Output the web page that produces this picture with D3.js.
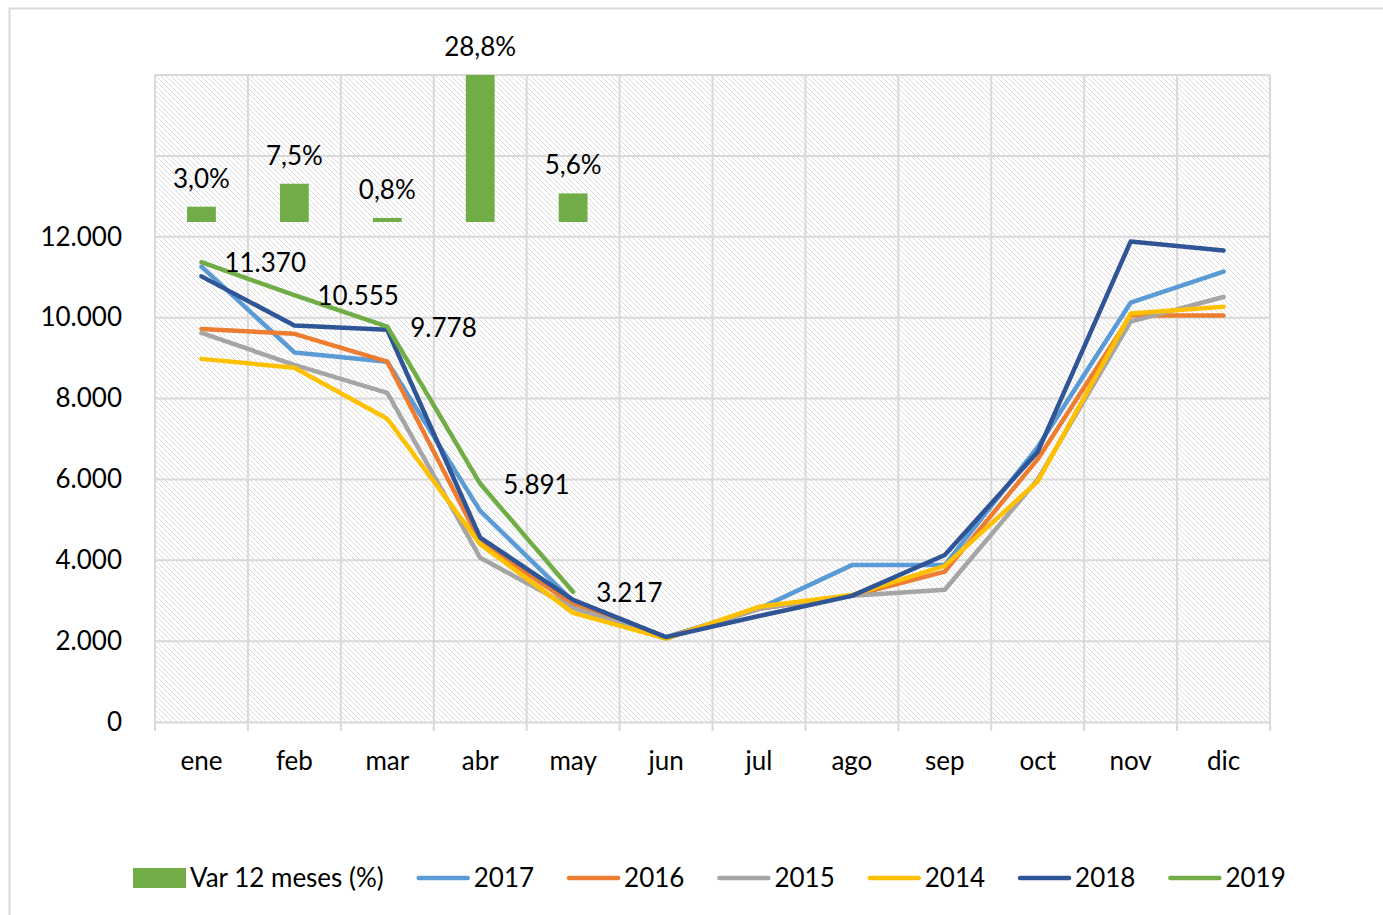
<!DOCTYPE html>
<html>
<head>
<meta charset="utf-8">
<script src="https://cdn.jsdelivr.net/npm/d3@7"></script>
<style>
  body { margin: 0; background: white; }
  svg text { font-family: Lato, "Open Sans", sans-serif; fill: #000; }
</style>
</head>
<body>
<svg id="chart" width="1383" height="915"></svg>
<script>
const months = ["ene", "feb", "mar", "abr", "may", "jun", "jul", "ago", "sep", "oct", "nov", "dic"];
const varPct = [3.0, 7.5, 0.8, 28.8, 5.6];
const yTicks = [0, 2000, 4000, 6000, 8000, 10000, 12000];

const s2017 = [11260, 9140, 8910, 5220, 2980, 2100, 2800, 3880, 3880, 6800, 10370, 11140];
const s2016 = [9720, 9600, 8910, 4460, 2900, 2080, 2800, 3120, 3720, 6500, 10050, 10050];
const s2015 = [9620, 8830, 8140, 4060, 2820, 2060, 2800, 3120, 3270, 6000, 9900, 10510];
const s2014 = [8980, 8760, 7500, 4400, 2700, 2060, 2850, 3140, 3860, 5950, 10100, 10270];
const s2018 = [11020, 9805, 9700, 4560, 3020, 2100, 2620, 3120, 4130, 6680, 11880, 11660];
const s2019 = [11370, 10555, 9778, 5891, 3217];

const seriesNames = ["2017", "2016", "2015", "2014", "2018", "2019"];
const seriesColors = ["#5B9BD5", "#ED7D31", "#A5A5A5", "#FFC000", "#2F5597", "#70AD47"];
const barColor = "#70AD47";

const series = [s2017, s2016, s2015, s2014, s2018, s2019].map((vals, i) => ({
    name: seriesNames[i], color: seriesColors[i], values: vals
}));

const nf = d3.formatLocale({decimal: ",", thousands: ".", grouping: [3], currency: ["", ""]});
const fmtInt = nf.format(",d");
const fmtPct = (v) => nf.format(".1f")(v) + "%";

const plot = {left: 155, right: 1270, top: 75, bottom: 722};
const gridColor = "#d9d9d9";
const fontSize = "26px";

const svg = d3.select("#chart");

// outer chart border
svg.append("rect")
    .attr("x", 9.5).attr("y", 8.5)
    .attr("width", 1400).attr("height", 1000)
    .attr("fill", "white")
    .attr("stroke", gridColor).attr("stroke-width", 2);

// hatch pattern for plot background
const defs = svg.append("defs");
const pat = defs.append("pattern")
    .attr("id", "hatch")
    .attr("patternUnits", "userSpaceOnUse")
    .attr("width", 5).attr("height", 5);
pat.append("path")
    .attr("d", "M0,0 L5,5 M-1,4 L1,6 M4,-1 L6,1")
    .attr("stroke", "#dcdcdc")
    .attr("stroke-width", 1);

////////  Scales /////////////

const x = d3.scaleBand()
    .domain(months)
    .range([plot.left, plot.right]);

const y = d3.scaleLinear()
    .domain([0, 16000])
    .range([plot.bottom, plot.top]);

// secondary (hidden) axis for the percentage bars
const y2 = d3.scaleLinear()
    .domain([0, 28.8])
    .range([222, 75]);

const cx = (i) => x(months[i]) + x.bandwidth() / 2;

////////  Plot area /////////////

svg.append("rect")
    .attr("x", plot.left).attr("y", plot.top)
    .attr("width", plot.right - plot.left)
    .attr("height", plot.bottom - plot.top)
    .attr("fill", "url(#hatch)");

const grid = svg.append("g").attr("stroke", gridColor).attr("stroke-width", 2);
grid.selectAll("line.h")
    .data(d3.range(2000, 16001, 2000))
    .join("line")
    .attr("class", "h")
    .attr("x1", plot.left).attr("x2", plot.right)
    .attr("y1", (d) => y(d)).attr("y2", (d) => y(d));
grid.selectAll("line.v")
    .data(months.map((m) => x(m)).concat([plot.right]))
    .join("line")
    .attr("class", "v")
    .attr("x1", (d) => d).attr("x2", (d) => d)
    .attr("y1", plot.top).attr("y2", plot.bottom);

// x axis with ticks between categories
const xAxisG = svg.append("g")
    .attr("transform", "translate(0," + plot.bottom + ")")
    .call(d3.axisBottom(x).tickSize(0).tickPadding(30));
xAxisG.select(".domain").attr("stroke", gridColor).attr("stroke-width", 2);
xAxisG.selectAll("text")
    .style("font-size", fontSize)
    .style("font-family", "Lato, sans-serif");
svg.append("g")
    .selectAll("line")
    .data(months.map((m) => x(m)).concat([plot.right]))
    .join("line")
    .attr("x1", (d) => d).attr("x2", (d) => d)
    .attr("y1", plot.bottom).attr("y2", plot.bottom + 9)
    .attr("stroke", gridColor).attr("stroke-width", 2);

// y axis labels only
const yAxisG = svg.append("g")
    .attr("transform", "translate(" + plot.left + ",0)")
    .call(d3.axisLeft(y).tickValues(yTicks).tickFormat(fmtInt).tickSize(0).tickPadding(33));
yAxisG.select(".domain").remove();
yAxisG.selectAll("text")
    .style("font-size", fontSize)
    .style("font-family", "Lato, sans-serif");

//////// Bars (Var 12 meses) ///////////////

const barW = x.bandwidth() * 0.31;
const bars = svg.append("g");
bars.selectAll("rect")
    .data(varPct)
    .join("rect")
    .attr("x", (d, i) => cx(i) - barW / 2)
    .attr("y", (d) => y2(d))
    .attr("width", barW)
    .attr("height", (d) => y2(0) - y2(d))
    .attr("fill", barColor);
bars.selectAll("text")
    .data(varPct)
    .join("text")
    .attr("x", (d, i) => cx(i))
    .attr("y", (d) => y2(d) - 19)
    .attr("text-anchor", "middle")
    .style("font-size", fontSize)
    .text(fmtPct);

//////// Lines ///////////////

const line = d3.line()
    .x((d, i) => cx(i))
    .y((d) => y(d));

svg.append("g")
    .selectAll("path")
    .data(series)
    .join("path")
    .attr("d", (d) => line(d.values))
    .attr("fill", "none")
    .attr("stroke", (d) => d.color)
    .attr("stroke-width", 4.5)
    .attr("stroke-linejoin", "round")
    .attr("stroke-linecap", "round");

// labels for 2019
svg.append("g")
    .selectAll("text")
    .data(s2019)
    .join("text")
    .attr("x", (d, i) => cx(i) + 23)
    .attr("y", (d) => y(d) + 10)
    .style("font-size", fontSize)
    .text(fmtInt);

//////// Legend ///////////////

const legend = svg.append("g").attr("transform", "translate(133,878)");
let lx = 0;
const legendItems = [{name: "Var 12 meses (%)", color: barColor, bar: true}].concat(series);
legendItems.forEach((it) => {
    if (it.bar) {
        legend.append("rect")
            .attr("x", lx).attr("y", -10)
            .attr("width", 53).attr("height", 20)
            .attr("fill", it.color);
    } else {
        legend.append("line")
            .attr("x1", lx + 2).attr("x2", lx + 51)
            .attr("y1", 0).attr("y2", 0)
            .attr("stroke", it.color)
            .attr("stroke-width", 4.5)
            .attr("stroke-linecap", "round");
    }
    const t = legend.append("text")
        .attr("x", lx + 57)
        .attr("y", 9)
        .style("font-size", fontSize)
        .text(it.name);
    lx += 57 + t.node().getComputedTextLength() + 33;
});
</script>
</body>
</html>
